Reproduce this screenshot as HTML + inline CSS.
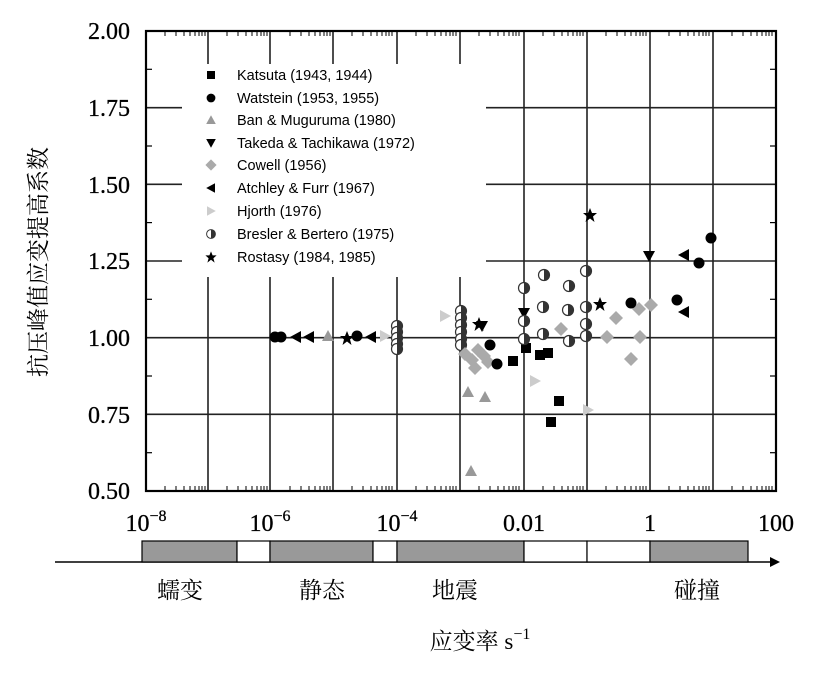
<!DOCTYPE html>
<html><head><meta charset="utf-8"><style>
body{margin:0;background:#fff}
svg{display:block}
.s{font-family:"Liberation Serif","Noto Serif CJK SC",serif}
.l{font-family:"Liberation Sans",sans-serif;font-size:14.5px}
</style></head><body>
<svg width="818" height="674" viewBox="0 0 818 674" xmlns="http://www.w3.org/2000/svg">
<defs>
<g id="sq"><rect x="-5" y="-5" width="10" height="10" fill="#000"/></g>
<g id="ci"><circle r="5.5" fill="#000"/></g>
<g id="tu"><polygon points="0,-6 6,5 -6,5" fill="#999"/></g>
<g id="td"><polygon points="-6,-5 6,-5 0,6" fill="#000"/></g>
<g id="di"><polygon points="0,-7 7,0 0,7 -7,0" fill="#aaa"/></g>
<g id="tl"><polygon points="-6,0 5,-6 5,6" fill="#000"/></g>
<g id="tr"><polygon points="6,0 -5,-6 -5,6" fill="#ccc"/></g>
<g id="bb"><circle r="5.5" fill="#fff" stroke="#333" stroke-width="1.2"/><path d="M0,-5.5 A5.5,5.5 0 0 1 0,5.5Z" fill="#333"/></g>
<g id="st"><polygon points="0,-7 2,-2 7,-2 3,1.5 4.5,7 0,3.5 -4.5,7 -3,1.5 -7,-2 -2,-2" fill="#000"/></g>
</defs>
<g stroke="#222" stroke-width="1.6">
<line x1="146" y1="107.7" x2="776" y2="107.7"/>
<line x1="146" y1="184.3" x2="776" y2="184.3"/>
<line x1="146" y1="261" x2="776" y2="261"/>
<line x1="146" y1="337.7" x2="776" y2="337.7"/>
<line x1="146" y1="414.3" x2="776" y2="414.3"/>
<line x1="208" y1="31" x2="208" y2="491"/>
<line x1="270" y1="31" x2="270" y2="491"/>
<line x1="333" y1="31" x2="333" y2="491"/>
<line x1="397" y1="31" x2="397" y2="491"/>
<line x1="460" y1="31" x2="460" y2="491"/>
<line x1="524" y1="31" x2="524" y2="491"/>
<line x1="587" y1="31" x2="587" y2="491"/>
<line x1="650" y1="31" x2="650" y2="491"/>
<line x1="713" y1="31" x2="713" y2="491"/>
</g>
<rect x="182" y="64" width="304" height="213" fill="#fff"/>
<rect x="146" y="31" width="630" height="460" fill="none" stroke="#000" stroke-width="2.2"/>
<g stroke="#000" stroke-width="1.2">
<line x1="146" y1="69.3" x2="152" y2="69.3"/><line x1="770" y1="69.3" x2="776" y2="69.3"/>
<line x1="146" y1="146" x2="152" y2="146"/><line x1="770" y1="146" x2="776" y2="146"/>
<line x1="146" y1="222.6" x2="152" y2="222.6"/><line x1="770" y1="222.6" x2="776" y2="222.6"/>
<line x1="146" y1="299.3" x2="152" y2="299.3"/><line x1="770" y1="299.3" x2="776" y2="299.3"/>
<line x1="146" y1="376" x2="152" y2="376"/><line x1="770" y1="376" x2="776" y2="376"/>
<line x1="146" y1="452.7" x2="152" y2="452.7"/><line x1="770" y1="452.7" x2="776" y2="452.7"/>
</g>
<g class="s" font-size="24" text-anchor="end" stroke="#000" stroke-width="0.3">
<text x="130" y="39">2.00</text><text x="130" y="116">1.75</text><text x="130" y="193">1.50</text>
<text x="130" y="269">1.25</text><text x="130" y="346">1.00</text><text x="130" y="423">0.75</text><text x="130" y="499">0.50</text>
</g>
<text class="s" font-size="23" transform="translate(46,262) rotate(-90)" text-anchor="middle">抗压峰值应变提高系数</text>
<g class="s" font-size="24" text-anchor="middle" stroke="#000" stroke-width="0.3">
<text x="146" y="531">10<tspan font-size="16" dy="-10">−8</tspan></text>
<text x="270" y="531">10<tspan font-size="16" dy="-10">−6</tspan></text>
<text x="397" y="531">10<tspan font-size="16" dy="-10">−4</tspan></text>
<text x="524" y="531">0.01</text>
<text x="650" y="531">1</text>
<text x="776" y="531">100</text>
</g>
<line x1="55" y1="562" x2="772" y2="562" stroke="#000" stroke-width="1.5"/>
<polygon points="780,562 770,557 770,567" fill="#000"/>
<g stroke="#000" stroke-width="1.2">
<rect x="142" y="541" width="95" height="21" fill="#999"/>
<rect x="237" y="541" width="33" height="21" fill="#fff"/>
<rect x="270" y="541" width="103" height="21" fill="#999"/>
<rect x="373" y="541" width="24" height="21" fill="#fff"/>
<rect x="397" y="541" width="127" height="21" fill="#999"/>
<rect x="524" y="541" width="63" height="21" fill="#fff"/>
<rect x="587" y="541" width="63" height="21" fill="#fff"/>
<rect x="650" y="541" width="98" height="21" fill="#999"/>
</g>
<g class="s" font-size="23" text-anchor="middle">
<text x="180" y="598">蠕变</text><text x="322" y="598">静态</text><text x="455" y="598">地震</text><text x="697" y="598">碰撞</text>
<text x="480" y="649">应变率 s<tspan font-size="16" dy="-10">−1</tspan></text>
</g>
<g class="l">
<use href="#sq" transform="translate(211,75) scale(.8)"/><text x="237" y="80">Katsuta (1943, 1944)</text>
<use href="#ci" transform="translate(211,98) scale(.8)"/><text x="237" y="103">Watstein (1953, 1955)</text>
<use href="#tu" transform="translate(211,120) scale(.8)"/><text x="237" y="125">Ban &amp; Muguruma (1980)</text>
<use href="#td" transform="translate(211,143) scale(.8)"/><text x="237" y="148">Takeda &amp; Tachikawa (1972)</text>
<use href="#di" transform="translate(211,165) scale(.8)"/><text x="237" y="170">Cowell (1956)</text>
<use href="#tl" transform="translate(211,188) scale(.8)"/><text x="237" y="193">Atchley &amp; Furr (1967)</text>
<use href="#tr" transform="translate(211,211) scale(.8)"/><text x="237" y="216">Hjorth (1976)</text>
<use href="#bb" transform="translate(211,234) scale(.8)"/><text x="237" y="239">Bresler &amp; Bertero (1975)</text>
<use href="#st" transform="translate(211,257) scale(.8)"/><text x="237" y="262">Rostasy (1984, 1985)</text>
</g>
<use href="#ci" x="275" y="337"/><use href="#ci" x="281" y="337"/>
<use href="#tl" x="296" y="337"/><use href="#tl" x="309" y="337"/>
<use href="#tu" x="328" y="336"/><use href="#st" x="347" y="338"/><use href="#ci" x="357" y="336"/>
<use href="#tl" x="371" y="337"/><use href="#tr" x="385" y="336"/>
<use href="#bb" x="397" y="326"/><use href="#bb" x="397" y="332"/><use href="#bb" x="397" y="338"/><use href="#bb" x="397" y="344"/><use href="#bb" x="397" y="349"/>
<use href="#tr" x="445" y="316"/>
<use href="#bb" x="461" y="311"/><use href="#bb" x="461" y="318"/><use href="#bb" x="461" y="325"/><use href="#bb" x="461" y="332"/><use href="#bb" x="461" y="339"/><use href="#bb" x="461" y="345"/>
<use href="#di" x="465" y="354"/><use href="#di" x="472" y="360"/><use href="#di" x="478" y="350"/><use href="#di" x="484" y="356"/><use href="#di" x="475" y="368"/><use href="#di" x="488" y="362"/>
<use href="#st" x="479" y="324"/><use href="#td" x="482" y="326"/>
<use href="#ci" x="490" y="345"/><use href="#ci" x="497" y="364"/>
<use href="#tu" x="468" y="392"/><use href="#tu" x="485" y="397"/><use href="#tu" x="471" y="471"/>
<use href="#sq" x="513" y="361"/><use href="#sq" x="526" y="348"/><use href="#sq" x="540" y="355"/><use href="#sq" x="548" y="353"/><use href="#sq" x="559" y="401"/><use href="#sq" x="551" y="422"/>
<use href="#tr" x="535" y="381"/><use href="#tr" x="588" y="410"/>
<use href="#td" x="524" y="313"/>
<use href="#bb" x="524" y="288"/><use href="#bb" x="544" y="275"/><use href="#bb" x="569" y="286"/><use href="#bb" x="586" y="271"/>
<use href="#bb" x="524" y="321"/><use href="#bb" x="543" y="307"/><use href="#bb" x="568" y="310"/><use href="#bb" x="586" y="307"/>
<use href="#bb" x="586" y="324"/><use href="#bb" x="586" y="336"/><use href="#bb" x="543" y="334"/><use href="#bb" x="569" y="341"/><use href="#bb" x="524" y="339"/>
<use href="#di" x="561" y="329"/><use href="#di" x="616" y="318"/><use href="#di" x="607" y="337"/><use href="#di" x="640" y="337"/><use href="#di" x="651" y="305"/><use href="#di" x="639" y="309"/><use href="#di" x="631" y="359"/>
<use href="#st" x="590" y="215"/><use href="#st" x="600" y="304"/>
<use href="#ci" x="631" y="303"/><use href="#ci" x="677" y="300"/><use href="#tl" x="684" y="312"/>
<use href="#ci" x="711" y="238"/><use href="#td" x="649" y="256"/><use href="#tl" x="684" y="255"/><use href="#ci" x="699" y="263"/>
<g stroke="#000" stroke-width="1">
<path d="M165,31v5M176,31v5M184,31v5M190,31v5M195,31v5M199,31v5M202,31v5M205,31v5M165,491v-5M176,491v-5M184,491v-5M190,491v-5M195,491v-5M199,491v-5M202,491v-5M205,491v-5"/>
<path d="M227,31v5M238,31v5M246,31v5M252,31v5M257,31v5M261,31v5M264,31v5M267,31v5M227,491v-5M238,491v-5M246,491v-5M252,491v-5M257,491v-5M261,491v-5M264,491v-5M267,491v-5"/>
<path d="M352,31v5M363,31v5M371,31v5M377,31v5M382,31v5M386,31v5M389,31v5M392,31v5M352,491v-5M363,491v-5M371,491v-5M377,491v-5M382,491v-5M386,491v-5M389,491v-5M392,491v-5"/>
<path d="M290,31v5M301,31v5M309,31v5M315,31v5M320,31v5M324,31v5M327,31v5M330,31v5M290,491v-5M301,491v-5M309,491v-5M315,491v-5M320,491v-5M324,491v-5M327,491v-5M330,491v-5"/>
<path d="M416,31v5M427,31v5M435,31v5M441,31v5M446,31v5M450,31v5M453,31v5M456,31v5M416,491v-5M427,491v-5M435,491v-5M441,491v-5M446,491v-5M450,491v-5M453,491v-5M456,491v-5"/>
<path d="M479,31v5M490,31v5M498,31v5M504,31v5M509,31v5M513,31v5M516,31v5M519,31v5M479,491v-5M490,491v-5M498,491v-5M504,491v-5M509,491v-5M513,491v-5M516,491v-5M519,491v-5"/>
<path d="M543,31v5M554,31v5M562,31v5M568,31v5M573,31v5M577,31v5M580,31v5M583,31v5M543,491v-5M554,491v-5M562,491v-5M568,491v-5M573,491v-5M577,491v-5M580,491v-5M583,491v-5"/>
<path d="M606,31v5M617,31v5M625,31v5M631,31v5M636,31v5M640,31v5M643,31v5M646,31v5M606,491v-5M617,491v-5M625,491v-5M631,491v-5M636,491v-5M640,491v-5M643,491v-5M646,491v-5"/>
<path d="M669,31v5M680,31v5M688,31v5M694,31v5M699,31v5M703,31v5M706,31v5M709,31v5M669,491v-5M680,491v-5M688,491v-5M694,491v-5M699,491v-5M703,491v-5M706,491v-5M709,491v-5"/>
<path d="M732,31v5M743,31v5M751,31v5M757,31v5M762,31v5M766,31v5M769,31v5M772,31v5M732,491v-5M743,491v-5M751,491v-5M757,491v-5M762,491v-5M766,491v-5M769,491v-5M772,491v-5"/>
</g>
</svg>
</body></html>
